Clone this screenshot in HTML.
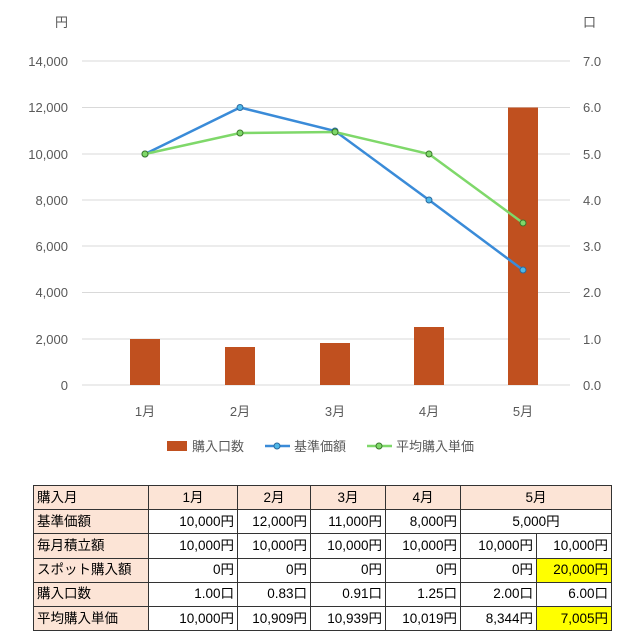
<!DOCTYPE html>
<html><head><meta charset="utf-8"><style>
body{margin:0;width:626px;height:644px;background:#fff;font-family:"Liberation Sans","Noto Sans CJK JP",sans-serif;position:relative;overflow:hidden}
svg{position:absolute;left:0;top:0}
table{position:absolute;left:33px;top:485px;border-collapse:collapse;font-size:13.5px;color:#000}
td{border:1.5px solid #333;height:23.2px;padding:0 3px;text-align:right;white-space:nowrap;line-height:20px}
td.h{background:#fce4d6;text-align:left}
tr.top td{background:#fce4d6;text-align:center}
tr.top td.h{text-align:left}
td.y{background:#ffff00}
td.c{text-align:center}
</style></head><body>
<svg width="626" height="480" font-family="Liberation Sans, Noto Sans CJK JP, sans-serif" font-size="13" fill="#595959">
<text x="55" y="27" font-size="13">円</text>
<text x="583" y="27" font-size="13">口</text>
<g stroke="#d9d9d9" stroke-width="1">
<line x1="82" x2="570" y1="61" y2="61"/><line x1="82" x2="570" y1="107.5" y2="107.5"/><line x1="82" x2="570" y1="154" y2="154"/><line x1="82" x2="570" y1="200" y2="200"/><line x1="82" x2="570" y1="246" y2="246"/><line x1="82" x2="570" y1="292.5" y2="292.5"/><line x1="82" x2="570" y1="339" y2="339"/><line x1="82" x2="570" y1="385" y2="385"/>
</g>
<g text-anchor="end">
<text x="68" y="66">14,000</text><text x="68" y="112">12,000</text><text x="68" y="159">10,000</text><text x="68" y="205">8,000</text><text x="68" y="251">6,000</text><text x="68" y="297">4,000</text><text x="68" y="344">2,000</text><text x="68" y="390">0</text>
</g>
<g>
<text x="583" y="66">7.0</text><text x="583" y="112">6.0</text><text x="583" y="159">5.0</text><text x="583" y="205">4.0</text><text x="583" y="251">3.0</text><text x="583" y="297">2.0</text><text x="583" y="344">1.0</text><text x="583" y="390">0.0</text>
</g>
<g fill="#c0501f">
<rect x="130" y="339" width="30" height="46"/>
<rect x="225" y="347" width="30" height="38"/>
<rect x="320" y="343" width="30" height="42"/>
<rect x="414" y="327" width="30" height="58"/>
<rect x="508" y="107.5" width="30" height="277.5"/>
</g>
<polyline fill="none" stroke="#3a8bd8" stroke-width="2.5" points="145,154 240,107.5 335,131 429,200 523,270"/>
<polyline fill="none" stroke="#7fd86a" stroke-width="2.5" points="145,154 240,133 335,132 429,154 523,223"/>
<g fill="#4fb8e8" stroke="#2a6aa0" stroke-width="1"><circle cx="145" cy="154" r="3"/><circle cx="240" cy="107.5" r="3"/><circle cx="335" cy="131" r="3"/><circle cx="429" cy="200" r="3"/><circle cx="523" cy="270" r="3"/></g>
<g fill="#7fd86a" stroke="#3a7a2a" stroke-width="1"><circle cx="145" cy="154" r="3"/><circle cx="240" cy="133" r="3"/><circle cx="335" cy="132" r="3"/><circle cx="429" cy="154" r="3"/><circle cx="523" cy="223" r="3"/></g>
<g text-anchor="middle"><text x="145" y="416">1月</text><text x="240" y="416">2月</text><text x="335" y="416">3月</text><text x="429" y="416">4月</text><text x="523" y="416">5月</text></g>
<rect x="167" y="441" width="20" height="10" fill="#c0501f"/>
<text x="192" y="451">購入口数</text>
<line x1="265" x2="290" y1="446" y2="446" stroke="#3a8bd8" stroke-width="2.5"/><circle cx="277" cy="446" r="3" fill="#4fb8e8" stroke="#2a6aa0"/>
<text x="294" y="451">基準価額</text>
<line x1="367" x2="392" y1="446" y2="446" stroke="#7fd86a" stroke-width="2.5"/><circle cx="379" cy="446" r="3" fill="#7fd86a" stroke="#3a7a2a"/>
<text x="396" y="451">平均購入単価</text>
</svg>
<table>
<colgroup><col style="width:115px"><col style="width:89px"><col style="width:73px"><col style="width:75px"><col style="width:75px"><col style="width:76px"><col style="width:75px"></colgroup>
<tr class="top"><td class="h">購入月</td><td>1月</td><td>2月</td><td>3月</td><td>4月</td><td colspan="2">5月</td></tr>
<tr><td class="h">基準価額</td><td>10,000円</td><td>12,000円</td><td>11,000円</td><td>8,000円</td><td colspan="2" class="c">5,000円</td></tr>
<tr><td class="h">毎月積立額</td><td>10,000円</td><td>10,000円</td><td>10,000円</td><td>10,000円</td><td>10,000円</td><td>10,000円</td></tr>
<tr><td class="h">スポット購入額</td><td>0円</td><td>0円</td><td>0円</td><td>0円</td><td>0円</td><td class="y">20,000円</td></tr>
<tr><td class="h">購入口数</td><td>1.00口</td><td>0.83口</td><td>0.91口</td><td>1.25口</td><td>2.00口</td><td>6.00口</td></tr>
<tr><td class="h">平均購入単価</td><td>10,000円</td><td>10,909円</td><td>10,939円</td><td>10,019円</td><td>8,344円</td><td class="y">7,005円</td></tr>
</table>
</body></html>
